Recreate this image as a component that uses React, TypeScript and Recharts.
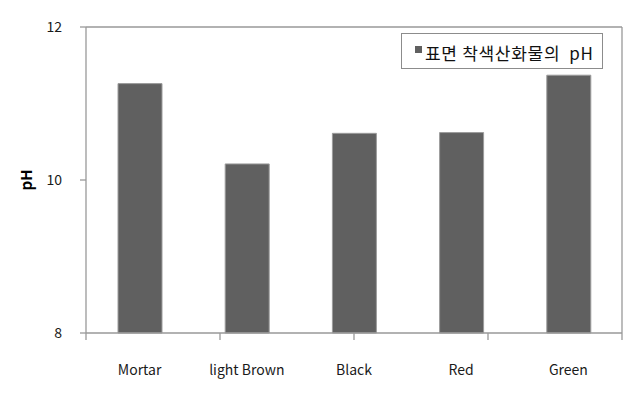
import React from 'react'
import { BarChart, Bar, XAxis, YAxis, Legend, Customized } from 'recharts'

const categories = ['Mortar', 'light Brown', 'Black', 'Red', 'Green']
const phValues = [11.26, 10.21, 10.61, 10.62, 11.37]
const yTicks = [8, 10, 12]
const boundaryTicks = [0, 1, 2, 3, 4, 5]
const seriesName = '표면 착색산화물의  pH'

const data = categories.map((name, i) => ({ name, ph: phValues[i] }))

const FONT = '"Noto Sans CJK KR", "Noto Sans", sans-serif'
const AXIS = '#999999'
const BAR = '#606060'

function LegendBox({ payload }: any) {
  const item = payload && payload[0]
  if (!item) return null
  return (
    <div
      style={{
        width: 202,
        minWidth: 202,
        height: 36,
        boxSizing: 'border-box',
        border: '1px solid #8c8c8c',
        background: '#fff',
        display: 'flex',
        alignItems: 'center',
        paddingLeft: 13,
        paddingTop: 3,
        fontFamily: FONT,
      }}
    >
      <span style={{ flexShrink: 0, width: 7, height: 7, background: item.color, marginRight: 3, marginTop: -6 }} />
      <span style={{ flexShrink: 0, fontSize: 17, letterSpacing: 0.7, color: '#111', whiteSpace: 'pre' }}>{item.value}</span>
    </div>
  )
}

function YTitle({ viewBox }: any) {
  const cx = viewBox.x + 25
  const cy = viewBox.y + viewBox.height / 2
  return (
    <text
      x={cx}
      y={cy}
      transform={`rotate(-90 ${cx} ${cy})`}
      textAnchor="middle"
      dominantBaseline="central"
      fontSize={15}
      fontWeight="bold"
      fill="#000"
      fontFamily={FONT}
    >
      pH
    </text>
  )
}

// outer frame; right and bottom edges sit outside the view
const Frame = () => <path d="M4.5 417 V6.5 H638" fill="none" stroke="#9a9a9a" strokeWidth={1.5} />

export default function App() {
  return (
    <div style={{ position: 'relative', margin: -8, width: 638, height: 417, overflow: 'hidden', background: '#fff' }}>
      <BarChart
        width={638}
        height={417}
        data={data}
        margin={{ top: 26, right: 15, left: 0, bottom: 0 }}
        style={{ fontFamily: FONT }}
      >
        <Customized component={Frame} />
        {/* tick marks between categories */}
        <XAxis
          xAxisId="bounds"
          type="number"
          domain={[0, 5]}
          ticks={boundaryTicks}
          tickFormatter={() => ''}
          tickSize={7}
          height={1}
          axisLine={{ stroke: AXIS, strokeWidth: 1.3 }}
          tickLine={{ stroke: AXIS, strokeWidth: 1.3 }}
        />
        <XAxis
          xAxisId="cat"
          dataKey="name"
          height={83}
          axisLine={false}
          tickLine={false}
          tickSize={0}
          tickMargin={31}
          tick={{ fontSize: 14, fill: '#1a1a1a' }}
        />
        <XAxis
          xAxisId="top"
          orientation="top"
          type="number"
          domain={[0, 5]}
          tick={false}
          tickLine={false}
          height={1}
          axisLine={{ stroke: AXIS, strokeWidth: 1.3 }}
        />
        <YAxis
          yAxisId="left"
          domain={[8, 12]}
          ticks={yTicks}
          width={86}
          tickSize={6}
          tickMargin={18}
          axisLine={{ stroke: AXIS, strokeWidth: 1.3 }}
          tickLine={{ stroke: AXIS, strokeWidth: 1.3 }}
          tick={{ fontSize: 14, fill: '#1a1a1a' }}
          label={<YTitle />}
        />
        <YAxis
          yAxisId="right"
          orientation="right"
          type="number"
          domain={[0, 1]}
          width={1}
          tick={false}
          tickLine={false}
          axisLine={{ stroke: AXIS, strokeWidth: 1.3 }}
        />
        <Legend
          layout="horizontal"
          verticalAlign="middle"
          align="center"
          wrapperStyle={{ position: 'absolute', left: 401, top: 33, width: 202 }}
          content={<LegendBox />}
        />
        <Bar
          xAxisId="cat"
          yAxisId="left"
          dataKey="ph"
          name={seriesName}
          fill={BAR}
          stroke="#9c9c9c"
          strokeWidth={1}
          barSize={44}
          isAnimationActive={false}
        />
      </BarChart>
    </div>
  )
}
